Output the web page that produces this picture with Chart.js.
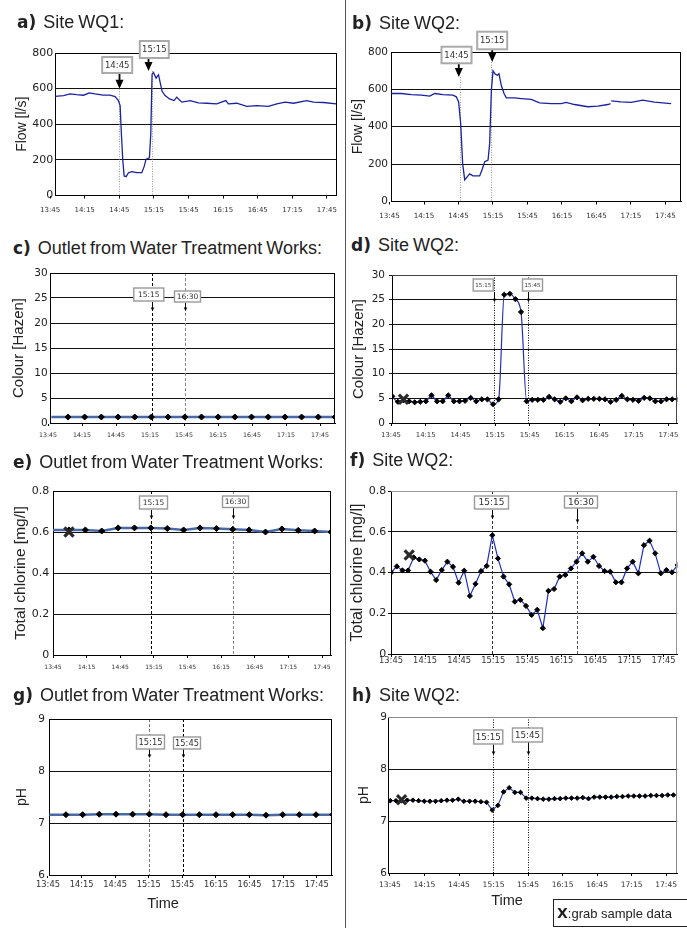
<!DOCTYPE html>
<html>
<head>
<meta charset="utf-8">
<script src="https://cdn.jsdelivr.net/npm/chart.js@4.4.1/dist/chart.umd.min.js"></script>
<style>
html, body { margin: 0; padding: 0; background: #fff; }
#page { position: relative; width: 687px; height: 928px; overflow: hidden; font-family: "Liberation Sans", Arial, sans-serif; color: #222; }
canvas { position: absolute; }
.divider { position: absolute; left: 345px; top: 0; width: 1px; height: 928px; background: #555; }
.ttl { position: absolute; font-size: 18px; line-height: 20px; white-space: nowrap; word-spacing: -1px; color: #222; z-index: 2; }
.ttl b { font-family: "DejaVu Sans", sans-serif; font-size: 17px; margin-right: 3px; }
.tm { position: absolute; font-size: 14.5px; line-height: 16px; transform: translateX(-50%); color: #222; }
.key { position: absolute; left: 553px; top: 899px; width: 140px; height: 28px; border: 1px solid #222; box-sizing: border-box; font-size: 13px; line-height: 26px; padding-left: 3px; white-space: nowrap; }
.key b { font-family: "DejaVu Sans", sans-serif; font-size: 14px; }
</style>
</head>
<body>
<div id="page">
  <div class="divider"></div>

  <div class="ttl" style="left:17px;top:12px"><b>a)</b> Site WQ1:</div>
  <div class="ttl" style="left:352px;top:13px"><b>b)</b> Site WQ2:</div>
  <div class="ttl" style="left:13px;top:238px"><b>c)</b> Outlet from Water Treatment Works:</div>
  <div class="ttl" style="left:351px;top:235px"><b>d)</b> Site WQ2:</div>
  <div class="ttl" style="left:13px;top:452px"><b>e)</b> Outlet from Water Treatment Works:</div>
  <div class="ttl" style="left:350px;top:450px"><b>f)</b> Site WQ2:</div>
  <div class="ttl" style="left:13px;top:685px"><b>g)</b> Outlet from Water Treatment Works:</div>
  <div class="ttl" style="left:352px;top:685px"><b>h)</b> Site WQ2:</div>

  <canvas id="cA" width="345" height="200" style="left:0;top:28px"></canvas>
  <canvas id="cB" width="340" height="200" style="left:347px;top:28px"></canvas>
  <canvas id="cC" width="345" height="190" style="left:0;top:258px"></canvas>
  <canvas id="cD" width="340" height="190" style="left:347px;top:258px"></canvas>
  <canvas id="cE" width="345" height="210" style="left:0;top:470px"></canvas>
  <canvas id="cF" width="340" height="210" style="left:347px;top:470px"></canvas>
  <canvas id="cG" width="345" height="200" style="left:0;top:700px"></canvas>
  <canvas id="cH" width="340" height="200" style="left:347px;top:700px"></canvas>

  <div class="tm" style="left:163px;top:895px">Time</div>
  <div class="tm" style="left:507px;top:892px">Time</div>
  <div class="key"><b>X</b>:grab sample data</div>
</div>

<script>
// --- data ---
// tick labels every 30 min
const TICK_LABELS = ['13:45', '14:15', '14:45', '15:15', '15:45', '16:15', '16:45', '17:15', '17:45'];

// flow logger records, minutes after 13:45 and l/s
const flowA_t = [4.3, 11.6, 17.3, 23, 29, 34, 39, 46, 52, 56.4, 59.2, 60.7, 61.8, 63, 64.2, 65.9, 68, 70.8, 75.1, 79.5, 81.5, 83.2, 86.1, 87.3, 88.4, 89.6, 91.9, 94, 95.4, 97.1, 99.7, 103.5, 107.5, 109.8, 114.2, 121.4, 128.6, 135.8, 144.5, 152.3, 154.6, 161.8, 170.5, 179.2, 189.3, 196.5, 203.8, 211, 222.5, 228.3, 237, 248];
const flowA_v = [557, 561, 570, 566, 563, 576, 570, 564, 563, 555, 533, 505, 347, 199, 110, 106, 128, 134, 128, 128, 162, 204, 212, 347, 681, 691, 659, 678, 635, 585, 561, 542, 533, 552, 524, 533, 520, 518, 514, 533, 514, 518, 500, 505, 500, 514, 524, 518, 533, 524, 522, 514];

const flowB_t = [1.6, 10.3, 19, 27.7, 35, 39.3, 46.5, 55.2, 58.1, 60.1, 61.9, 63.6, 65.4, 67.7, 69.7, 72.6, 78.4, 80.4, 82.8, 85.7, 87.1, 88.6, 90, 92, 93.8, 95.2, 97.2, 99.6, 101.6, 108.8, 114.6, 123.3, 130.5, 140.6, 149.3, 153.6, 160.9, 172.5, 181.2, 189.9, 192.2, 192.5, 192.8, 201.4, 210.1, 220.3, 230.4, 244.9];
const flowB_v = [578, 578, 572, 569, 564, 578, 572, 569, 560, 533, 418, 204, 116, 133, 148, 137, 137, 169, 213, 222, 311, 596, 699, 681, 676, 684, 622, 578, 555, 555, 551, 546, 528, 524, 524, 530, 519, 507, 510, 519, 524, null, 539, 533, 530, 542, 532, 524];

// grab samples every 15 min at the works outlet
const times15 = ['13:45', '14:00', '14:15', '14:30', '14:45', '15:00', '15:15', '15:30', '15:45', '16:00', '16:15', '16:30', '16:45', '17:00', '17:15', '17:30', '17:45', '18:00'];
const colourOut = [1.2, 1.2, 1.2, 1.2, 1.2, 1.2, 1.2, 1.2, 1.2, 1.2, 1.2, 1.2, 1.2, 1.2, 1.2, 1.2, 1.2, 1.2];
const chlorOut = [0.61, 0.61, 0.61, 0.605, 0.62, 0.62, 0.62, 0.617, 0.61, 0.62, 0.617, 0.613, 0.61, 0.60, 0.615, 0.608, 0.605, 0.60];
const phOut = [7.16, 7.16, 7.16, 7.17, 7.17, 7.17, 7.17, 7.16, 7.16, 7.16, 7.16, 7.16, 7.16, 7.15, 7.16, 7.16, 7.16, 7.16];

// 5 min samples at WQ2
const times5 = ['13:45', '13:50', '13:55', '14:00', '14:05', '14:10', '14:15', '14:20', '14:25', '14:30', '14:35', '14:40', '14:45', '14:50', '14:55', '15:00', '15:05', '15:10', '15:15', '15:20', '15:25', '15:30', '15:35', '15:40', '15:45', '15:50', '15:55', '16:00', '16:05', '16:10', '16:15', '16:20', '16:25', '16:30', '16:35', '16:40', '16:45', '16:50', '16:55', '17:00', '17:05', '17:10', '17:15', '17:20', '17:25', '17:30', '17:35', '17:40', '17:45', '17:50', '17:55', '18:00'];
const colourWQ2 = [5.4, 4.3, 4.6, 4.4, 4.2, 4.3, 4.4, 5.6, 4.4, 4.4, 5.6, 4.4, 4.4, 4.5, 5.1, 4.4, 4.8, 4.8, 3.8, 4.8, 26.0, 26.2, 25.1, 22.5, 4.4, 4.7, 4.7, 4.7, 5.3, 4.8, 4.3, 5.0, 4.4, 5.2, 4.6, 4.9, 4.9, 4.9, 4.8, 4.3, 4.7, 5.5, 4.8, 4.7, 4.5, 5.1, 5.0, 4.4, 4.4, 4.8, 4.8, 4.8];
const chlorWQ2 = [0.40, 0.43, 0.41, 0.41, 0.474, 0.464, 0.458, 0.404, 0.363, 0.412, 0.453, 0.428, 0.350, 0.409, 0.285, 0.344, 0.407, 0.432, 0.583, 0.469, 0.380, 0.342, 0.257, 0.266, 0.236, 0.192, 0.217, 0.127, 0.310, 0.319, 0.380, 0.388, 0.420, 0.453, 0.494, 0.453, 0.477, 0.432, 0.407, 0.404, 0.352, 0.352, 0.420, 0.453, 0.396, 0.534, 0.556, 0.494, 0.396, 0.412, 0.401, 0.437];
const phWQ2 = [7.39, 7.39, 7.39, 7.40, 7.40, 7.39, 7.38, 7.38, 7.38, 7.39, 7.40, 7.40, 7.42, 7.38, 7.38, 7.38, 7.37, 7.36, 7.21, 7.30, 7.56, 7.64, 7.55, 7.55, 7.44, 7.44, 7.43, 7.42, 7.42, 7.43, 7.43, 7.44, 7.44, 7.44, 7.45, 7.43, 7.46, 7.46, 7.46, 7.46, 7.47, 7.47, 7.48, 7.48, 7.48, 7.48, 7.49, 7.49, 7.49, 7.50, 7.50];

// grab sample points [time, value]
const grabD = ['13:55', 4.8];
const grabE = ['14:00', 0.60];
const grabF = ['14:01', 0.486];
const grabH = ['13:55', 7.41];

// --- helpers ---
function toMin(s) {
  const [h, m] = s.split(':').map(Number);
  return h * 60 + m - (13 * 60 + 45);
}
function clock(m) {
  const t = 13 * 60 + 45 + Math.round(m);
  return Math.floor(t / 60) + ':' + String(t % 60).padStart(2, '0');
}
const tickMins = TICK_LABELS.map(toMin);

function pairs(ts, vs) { return ts.map((t, i) => ({ x: t, y: vs[i] })); }
function timed(ts, vs) { return vs.map((v, i) => ({ x: toMin(ts[i]), y: v })); }

function series(data, color, width, radius, extra) {
  return Object.assign({
    data: data,
    borderColor: color,
    borderWidth: width,
    pointStyle: 'rectRot',
    pointRadius: radius,
    pointBackgroundColor: '#000',
    pointBorderColor: '#000',
    pointBorderWidth: 1,
    tension: 0,
    spanGaps: false
  }, extra || {});
}
function grab(p) {
  return {
    data: [{ x: toMin(p[0]), y: p[1] }],
    showLine: false,
    pointStyle: 'crossRot',
    pointRadius: 6.5,
    pointBorderWidth: 3.2,
    pointBorderColor: '#2a2a2a',
    pointBackgroundColor: '#2a2a2a'
  };
}
const hideFirst = r => (ctx => ctx.dataIndex === 0 ? 0 : r);

// --- marker boxes, vertical time lines and plot frame ---
const deco = {
  id: 'deco',
  beforeDatasetsDraw(chart, args, o) {
    const { ctx, chartArea: ca, scales } = chart;
    ctx.save();
    (o.marks || []).forEach(m => {
      const x = Math.round(scales.x.getPixelForValue(m.t)) + 0.5;
      const tipY = scales.y.getPixelForValue(m.tip);
      ctx.setLineDash(m.dash);
      ctx.strokeStyle = m.lc;
      ctx.lineWidth = m.lw || 1;
      ctx.beginPath();
      ctx.moveTo(x, m.fromTip ? tipY : ca.top);
      ctx.lineTo(x, ca.bottom);
      ctx.stroke();
    });
    ctx.restore();
  },
  afterDatasetsDraw(chart, args, o) {
    const { ctx, chartArea: ca, scales } = chart;
    ctx.save();
    ctx.strokeStyle = o.frame || '#000';
    ctx.lineWidth = 1;
    ctx.beginPath();
    ctx.moveTo(ca.left, Math.round(ca.top) + 0.5);
    ctx.lineTo(Math.round(ca.right) - 0.5, Math.round(ca.top) + 0.5);
    ctx.lineTo(Math.round(ca.right) - 0.5, ca.bottom);
    ctx.stroke();
    (o.marks || []).forEach(m => {
      const x = Math.round(scales.x.getPixelForValue(m.t)) + 0.5;
      const tipY = scales.y.getPixelForValue(m.tip);
      const bx = x + m.dx - m.w / 2, by = ca.top + m.dy;
      ctx.fillStyle = '#fff';
      ctx.fillRect(bx, by, m.w, m.h);
      ctx.strokeStyle = m.big ? '#aaa' : '#999';
      ctx.lineWidth = m.big ? 2 : 1.4;
      ctx.strokeRect(bx, by, m.w, m.h);
      ctx.fillStyle = '#333';
      ctx.font = m.fs + 'px "DejaVu Sans"';
      ctx.textAlign = 'center';
      ctx.textBaseline = 'middle';
      ctx.fillText(m.text, bx + m.w / 2, by + m.h / 2 + 0.5);
      const ax = x + (m.ax || 0);
      ctx.strokeStyle = '#000';
      ctx.fillStyle = '#000';
      const head = m.big ? 9 : 3.5, half = m.big ? 4 : 1.8;
      ctx.lineWidth = m.big ? 1.8 : 1;
      ctx.beginPath();
      ctx.moveTo(ax, by + m.h + 1);
      ctx.lineTo(ax, tipY - head + 1);
      ctx.stroke();
      ctx.beginPath();
      ctx.moveTo(ax - half, tipY - head);
      ctx.lineTo(ax + half, tipY - head);
      ctx.lineTo(ax, tipY);
      ctx.closePath();
      ctx.fill();
    });
    ctx.restore();
  }
};

function panel(id, c) {
  return new Chart(document.getElementById(id), {
    type: 'line',
    data: { datasets: c.datasets },
    options: {
      responsive: false,
      animation: false,
      devicePixelRatio: 1,
      layout: { padding: { left: 0, top: c.padTop, right: c.padRight, bottom: 0 } },
      plugins: {
        legend: { display: false },
        tooltip: { enabled: false },
        deco: { frame: c.frame, marks: c.marks }
      },
      scales: {
        x: { type: 'linear', display: false, min: c.x[0], max: c.x[1] },
        xl: {
          type: 'linear', position: 'bottom', min: c.xl[0], max: c.xl[1],
          afterBuildTicks: s => { s.ticks = tickMins.map(v => ({ value: v })); },
          afterFit: s => { s.height = c.xH; s.paddingLeft = 0; s.paddingRight = 0; },
          ticks: {
            autoSkip: false, maxRotation: 0, padding: c.xPad, color: '#333',
            font: { family: 'DejaVu Sans', size: c.xFont },
            callback: v => clock(v)
          },
          grid: { drawOnChartArea: false, drawTicks: true, tickLength: 3, color: '#000' },
          border: { color: '#000', width: 1 }
        },
        y: {
          min: c.y[0], max: c.y[1],
          afterFit: s => { s.width = c.yW; s.paddingTop = 0; s.paddingBottom = 0; },
          ticks: {
            stepSize: c.y[2], padding: c.yPad, color: '#222',
            font: { family: 'DejaVu Sans', size: c.yFont }
          },
          grid: { color: '#111', lineWidth: 1, drawTicks: c.yTick > 0, tickLength: c.yTick },
          border: { color: '#000', width: 1 },
          title: {
            display: true, text: c.yTitle, color: '#222',
            font: { family: 'Liberation Sans', size: c.yTitleSize },
            padding: { top: c.yTitlePad, bottom: 0 }
          }
        }
      }
    },
    plugins: [deco]
  });
}

const outStyle = '#4a6aa5';

// a) flow WQ1
panel('cA', {
  datasets: [series(pairs(flowA_t, flowA_v), '#1a22a0', 1.3, 0)],
  padTop: 25, padRight: 8.5, yW: 55, xH: 32.5,
  x: [4.25, 248.3], xl: [4.25, 248.3], xFont: 7, xPad: 7,
  y: [0, 800, 200], yFont: 11, yPad: 1.7, yTick: 0,
  yTitle: 'Flow [l/s]', yTitleSize: 14, yTitlePad: 13.3, frame: '#000',
  marks: [
    { t: 60, text: '14:45', dx: -2.3, dy: 4, w: 30, h: 16, tip: 600, ax: 0, big: true, fs: 8.5, dash: [1, 1.5], lc: '#999', fromTip: true },
    { t: 88, text: '15:15', dx: 1.8, dy: -12, w: 29, h: 17, tip: 699, ax: -4, big: true, fs: 8.5, dash: [1, 1.5], lc: '#999', fromTip: true }
  ]
});

// b) flow WQ2
panel('cB', {
  datasets: [series(pairs(flowB_t, flowB_v), '#1a22a0', 1.3, 0)],
  padTop: 24, padRight: 6, yW: 44, xH: 26.5,
  x: [1.3, 253.5], xl: [1.3, 253.5], xFont: 7.2, xPad: 6.9,
  y: [0, 800, 200], yFont: 10.5, yPad: 3, yTick: 0,
  yTitle: 'Flow [l/s]', yTitleSize: 14, yTitlePad: 2.6, frame: '#000',
  marks: [
    { t: 61, text: '14:45', dx: -4, dy: -5.3, w: 30, h: 16.6, tip: 666, ax: -1.7, big: true, fs: 8.5, dash: [1, 1.5], lc: '#999', fromTip: true },
    { t: 88.5, text: '15:15', dx: 0.7, dy: -20.3, w: 30, h: 17.6, tip: 746, ax: 0.7, big: true, fs: 8.5, dash: [1, 1.5], lc: '#999', fromTip: true }
  ]
});

// c) colour at works outlet
panel('cC', {
  datasets: [series(timed(times15, colourOut), outStyle, 2.5, hideFirst(3))],
  padTop: 15, padRight: 10, yW: 50, xH: 25,
  x: [-1.17, 255], xl: [1.76, 253.2], xFont: 6.3, xPad: 5.9,
  y: [0, 30, 5], yFont: 10.5, yPad: 2.3, yTick: 0,
  yTitle: 'Colour [Hazen]', yTitleSize: 15, yTitlePad: 9.5, frame: '#000',
  marks: [
    { t: 90.5, text: '15:15', dx: -3.7, dy: 15, w: 30, h: 13, tip: 22.4, ax: 0, fs: 7.5, dash: [3, 2], lc: '#000' },
    { t: 120, text: '16:30', dx: 2, dy: 18, w: 26, h: 11, tip: 22.4, ax: 0, fs: 7.5, dash: [3, 2], lc: '#888' }
  ]
});

// d) colour WQ2
panel('cD', {
  datasets: [grab(grabD), series(timed(times5, colourWQ2), '#2230b0', 1.2, 2.6, { cubicInterpolationMode: 'monotone' })],
  padTop: 17, padRight: 2, yW: 45, xH: 25,
  x: [-0.26, 254.6], xl: [0.84, 247.7], xFont: 6.9, xPad: 5.5,
  y: [0, 30, 5], yFont: 10.5, yPad: 4, yTick: 3,
  yTitle: 'Colour [Hazen]', yTitleSize: 15, yTitlePad: 3, frame: '#444',
  marks: [
    { t: 91, text: '15:15', dx: -11.3, dy: 4, w: 20, h: 12, tip: 24.5, ax: 0, fs: 5.5, dash: [1, 1.5], lc: '#000' },
    { t: 121.5, text: '15:45', dx: 4, dy: 4, w: 20, h: 12, tip: 24.5, ax: 0, fs: 5.5, dash: [1, 1.5], lc: '#000' }
  ]
});

// e) chlorine at works outlet
panel('cE', {
  datasets: [grab(grabE), series(timed(times15, chlorOut), outStyle, 2.5, hideFirst(3))],
  padTop: 21, padRight: 14, yW: 53, xH: 25,
  x: [0.37, 255], xl: [0, 248], xFont: 6, xPad: 6,
  y: [0, 0.8, 0.2], yFont: 11, yPad: 3.7, yTick: 0,
  yTitle: 'Total chlorine [mg/l]', yTitleSize: 15.5, yTitlePad: 11.7, frame: '#000',
  marks: [
    { t: 90, text: '15:15', dx: 2, dy: 5, w: 28, h: 13, tip: 0.663, ax: 0, fs: 7.5, dash: [3, 2], lc: '#000' },
    { t: 165, text: '16:30', dx: 2, dy: 5, w: 26, h: 11.5, tip: 0.663, ax: 0, fs: 7.5, dash: [3, 2], lc: '#888' }
  ]
});

// f) chlorine WQ2
panel('cF', {
  datasets: [grab(grabF), series(timed(times5, chlorWQ2), '#1c2fc8', 1.2, 2.6)],
  padTop: 21, padRight: 5, yW: 44, xH: 26,
  x: [-0.2, 254.7], xl: [0, 252.1], xFont: 8.3, xPad: -1,
  y: [0, 0.8, 0.2], yFont: 11, yPad: 1.7, yTick: 3,
  yTitle: 'Total chlorine [mg/l]', yTitleSize: 16, yTitlePad: 1.4, frame: '#999',
  marks: [
    { t: 90, text: '15:15', dx: -1, dy: 5, w: 34, h: 13, tip: 0.663, ax: 0, fs: 9, dash: [3, 2], lc: '#333' },
    { t: 165, text: '16:30', dx: 3.5, dy: 5, w: 33, h: 12, tip: 0.643, ax: 0, fs: 9, dash: [3, 2], lc: '#555' }
  ]
});

// g) pH at works outlet
panel('cG', {
  datasets: [series(timed(times15, phOut), outStyle, 2.5, hideFirst(3))],
  padTop: 19, padRight: 13, yW: 49, xH: 25,
  x: [-0.27, 254.4], xl: [0.9, 253.6], xFont: 8.3, xPad: 1.9,
  y: [6, 9, 1], yFont: 10.5, yPad: 4, yTick: 0,
  yTitle: 'pH', yTitleSize: 14, yTitlePad: 14.1, frame: '#000',
  marks: [
    { t: 90, text: '15:15', dx: 1, dy: 16, w: 28, h: 14, tip: 8.25, ax: 0, fs: 8.3, dash: [3, 2], lc: '#777' },
    { t: 120, text: '15:45', dx: 3.5, dy: 18, w: 27, h: 12, tip: 8.25, ax: 0, fs: 8.3, dash: [3, 2], lc: '#000' }
  ]
});

// h) pH WQ2
panel('cH', {
  datasets: [grab(grabH), series(timed(times5.slice(0, phWQ2.length), phWQ2), '#2030b0', 1.1, 2.3)],
  padTop: 17, padRight: 1, yW: 41, xH: 27,
  x: [-2, 253.4], xl: [-1.7, 249.7], xFont: 7.6, xPad: 4.2,
  y: [6, 9, 1], yFont: 10.5, yPad: 1, yTick: 0,
  yTitle: 'pH', yTitleSize: 14, yTitlePad: 8.6, frame: '#888',
  marks: [
    { t: 90.3, text: '15:15', dx: -5.2, dy: 13, w: 29, h: 14, tip: 8.27, ax: 0, fs: 8.7, dash: [1, 1.5], lc: '#000' },
    { t: 121.5, text: '15:45', dx: -1, dy: 11, w: 30, h: 14, tip: 8.27, ax: 0, fs: 8.7, dash: [1, 1.5], lc: '#000' }
  ]
});
</script>
</body>
</html>
